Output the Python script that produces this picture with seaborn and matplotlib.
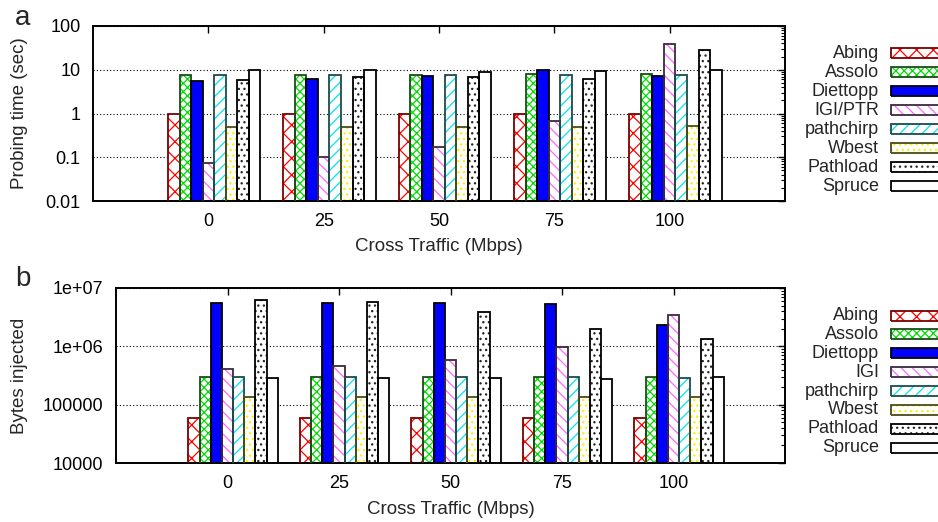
import numpy as np
import pandas as pd
import matplotlib
matplotlib.use("Agg")
import matplotlib.pyplot as plt
from matplotlib.patches import Rectangle
import seaborn as sns

# data
traffic = ["0", "25", "50", "75", "100"]
tools_a = ["Abing", "Assolo", "Diettopp", "IGI/PTR", "pathchirp", "Wbest", "Pathload", "Spruce"]
tools_b = ["Abing", "Assolo", "Diettopp", "IGI", "pathchirp", "Wbest", "Pathload", "Spruce"]

# probing time (sec), one list per tool, ordered by cross traffic
abing_time = [0.96, 0.96, 0.96, 0.96, 0.96]
assolo_time = [7.6, 7.6, 7.6, 7.9, 7.9]
diettopp_time = [5.45, 6.15, 7.1, 9.7, 7.2]
igi_time = [0.073, 0.1, 0.169, 0.68, 38]
pathchirp_time = [7.7, 7.6, 7.7, 7.7, 7.5]
wbest_time = [0.5, 0.5, 0.5, 0.5, 0.53]
pathload_time = [5.74, 6.7, 6.8, 6.25, 27.8]
spruce_time = [9.7, 9.7, 8.7, 9.2, 9.9]

# bytes injected
abing_bytes = [59000, 59000, 59000, 59000, 59000]
assolo_bytes = [298000, 298000, 297000, 302000, 298000]
diettopp_bytes = [5.46e6, 5.46e6, 5.46e6, 5.32e6, 2.29e6]
igi_bytes = [404000, 466000, 576000, 975000, 3.49e6]
pathchirp_bytes = [302000, 302000, 302000, 302000, 287000]
wbest_bytes = [134000, 134000, 134000, 134000, 134000]
pathload_bytes = [6.15e6, 5.68e6, 3.93e6, 2.01e6, 1.32e6]
spruce_bytes = [283000, 283000, 283000, 275000, 294000]

times = [abing_time, assolo_time, diettopp_time, igi_time,
         pathchirp_time, wbest_time, pathload_time, spruce_time]
bytes_ = [abing_bytes, assolo_bytes, diettopp_bytes, igi_bytes,
          pathchirp_bytes, wbest_bytes, pathload_bytes, spruce_bytes]

# gnuplot-like styles: face, hatch colour, hatch, outline
faces = ["white", "white", "#0000ff", "white", "white", "white", "white", "white"]
hatch_cols = ["#ff0000", "#00dd00", "#0000ff", "#ff66ff", "#00e5ee", "#ffee00", "#222222", "white"]
hatches = ["xx", "xxxx", "", "\\\\\\", "///", "...", "...", ""]
outlines = ["#7a0000", "#1a4d1a", "#000000", "#3a2a3a", "#1d4a4a", "#4a4a1a", "#000000", "#000000"]

sns.set_style("white")
plt.rcParams["font.family"] = ["Liberation Sans", "DejaVu Sans"]
plt.rcParams["hatch.linewidth"] = 0.9

W, H = 938, 522
fig = plt.figure(figsize=(W / 100, H / 100), dpi=100)


def px_box(left, top, right, bottom):
    return [left / W, 1 - bottom / H, (right - left) / W, (bottom - top) / H]


def make_df(tools, series):
    rows = []
    for tool, vals in zip(tools, series):
        for t, v in zip(traffic, vals):
            rows.append({"traffic": t, "tool": tool, "value": v})
    return pd.DataFrame(rows)


def draw_panel(ax, tools, series, ylim, yticks, yticklabels, ylabel):
    df = make_df(tools, series)
    pal = dict(zip(tools, faces))
    sns.barplot(data=df, x="traffic", y="value", hue="tool", order=traffic,
                hue_order=tools, palette=pal, width=0.8, gap=0, dodge=True,
                errorbar=None, legend=False, log_scale=True, saturation=1, ax=ax)
    bars = list(ax.patches)
    for p in bars:
        w = p.get_width()
        cx = p.get_x() + w / 2
        off = cx - round(cx)
        i = int(round((off + 0.35) / 0.1))
        p.set_x(p.get_x() + 0.05)
        p.set_facecolor(faces[i])
        p.set_hatch(hatches[i])
        p.set_edgecolor(hatch_cols[i])
        p.set_linewidth(0)
        ax.add_patch(Rectangle((p.get_x(), p.get_y()), w, p.get_height(),
                               fill=False, edgecolor=outlines[i], lw=1.3, zorder=3))
    ax.set_yscale("log")
    ax.set_ylim(*ylim)
    ax.set_xlim(-1, 5)
    ax.set_yticks(yticks, yticklabels)
    ax.yaxis.grid(True, which="major", linestyle=(0, (1, 2)), color="black", lw=0.8)
    ax.set_axisbelow(True)
    ax.tick_params(which="both", direction="in", top=True, right=True,
                   labelsize=13, pad=9, colors="black")
    ax.tick_params(which="major", length=5, width=1)
    ax.tick_params(which="minor", length=3, width=0.8)
    ax.tick_params(axis="x", length=5)
    for s in ax.spines.values():
        s.set_visible(True)
        s.set_color("black")
        s.set_linewidth(1.4)
    ax.set_xlabel("Cross Traffic (Mbps)", fontsize=13.5)
    ax.set_ylabel(ylabel, fontsize=13.5)
    ax.xaxis.label.set_va("center")
    ax.yaxis.label.set_va("center")


def draw_legend(tools, top_y, step, text_right, box_left):
    for i, name in enumerate(tools):
        y = top_y + i * step
        fig.text(text_right / W, 1 - y / H, name, ha="right", va="center", fontsize=13)
        r = Rectangle((box_left / W, 1 - (y + 5) / H), 60 / W, 10 / H,
                      transform=fig.transFigure, facecolor=faces[i],
                      hatch=hatches[i], edgecolor=hatch_cols[i], lw=0)
        fig.add_artist(r)
        fig.add_artist(Rectangle((box_left / W, 1 - (y + 5) / H), 60 / W, 10 / H,
                                 transform=fig.transFigure, fill=False,
                                 edgecolor=outlines[i], lw=1.3))


ax1 = fig.add_axes(px_box(93, 26, 785, 201))
draw_panel(ax1, tools_a, times, (0.01, 100), [0.01, 0.1, 1, 10, 100],
           ["0.01", "0.1", "1", "10", "100"], "Probing time (sec)")
ax1.xaxis.set_label_coords(0.5, (201 - 247) / 175)
ax1.yaxis.set_label_coords((20 - 93) / 692, 0.5)

ax2 = fig.add_axes(px_box(116, 288, 785, 463))
draw_panel(ax2, tools_b, bytes_, (1e4, 1e7), [1e4, 1e5, 1e6, 1e7],
           ["10000", "100000", "1e+06", "1e+07"], "Bytes injected")
ax2.xaxis.set_label_coords(0.5, (463 - 509) / 175)
ax2.yaxis.set_label_coords((20 - 116) / 669, 0.5)

draw_legend(tools_a, 53.3, 18.96, 879, 891)
draw_legend(tools_b, 315.5, 18.9, 879, 891)

fig.text(23 / W, 1 - 18 / H, "a", fontsize=20, ha="center", va="center")
fig.text(23 / W, 1 - 279 / H, "b", fontsize=20, ha="center", va="center")

fig.savefig("out.png", dpi=100)
